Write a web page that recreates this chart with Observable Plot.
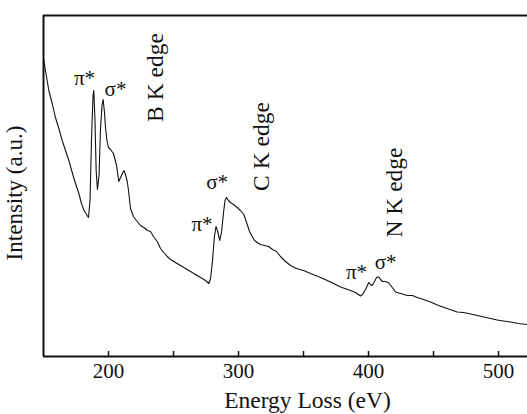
<!DOCTYPE html>
<html>
<head>
<meta charset="utf-8">
<script src="https://cdn.jsdelivr.net/npm/d3@7"></script>
<script src="https://cdn.jsdelivr.net/npm/@observablehq/plot@0.6"></script>
<style>
  html, body { margin: 0; padding: 0; background: #fff; }
  #chart svg { display: block; }
  #chart svg text { font-family: "Liberation Serif", "DejaVu Serif", serif; }
</style>
</head>
<body>
<div id="chart"></div>
<script>
// Energy loss (eV) and intensity (a.u.)
const energy = [150,151.5,154.1,156.7,159.2,161.8,164.4,166.9,169.5,172.1,174.6,177.2,179.2,181.2,183.1,184.6,185.8,186.9,188.1,188.7,189.6,190.5,191.5,192.7,193.8,195,195.9,196.9,197.7,198.8,200,201.5,203.8,206.2,207.9,209.6,211.8,213.1,214.4,215.4,216.9,219.2,221.5,224.6,227.2,230,232.3,234.6,237.5,240,242.5,245.2,247.7,251.5,255.4,259.2,263.1,266.9,270.8,274.6,277.2,278.5,280,281.5,282.7,283.8,285.6,286.9,288.5,289.6,290.8,292.3,293.8,296.2,299,301.5,304.1,306.2,308.5,310.5,312.3,314.4,316.9,320,323.1,326.2,329.2,332.3,336.2,340,344.6,350,355.4,363.1,370.8,378.5,386.2,390,393.8,395.4,397.7,400.2,401.5,402.8,404.6,406.2,407.9,409.2,410.8,413.1,415.6,417.7,420.8,424.6,429.8,433.8,437.5,442.3,447.7,453.8,460.5,468.2,473.1,478.5,483.8,488.7,493.8,499,503.8,509.2,515.4,522.3];
const intensity = [298,286,266,253,239,228,216,206,196,184,173,163,153,146,142,139,156,216,261,266,236,186,167,181,226,251,257,244,229,216,209,207,203,191,175,180,186,182,175,166,148,140,136,131,129,126,125,120,115,108,104,100,97,94,91,88,85,82,79,76,73,78,96,120,130,126,116,124,144,156,159,156,154,152,149,146,142,134,125,120,116,114,112,111,110,107,105,100,95,91,88,86,83,79,74.5,69.5,66,64,60.5,62,67,74,72,71,75,79,79.5,77,75,75,73.5,70,64.5,63,61,61,59,57,54.5,51,48,44.5,44,42.5,41,39.5,38,36.5,35.5,34.5,33,32];

const xTicks = [200, 250, 300, 350, 400, 450, 500];
const xTickLabels = [200, 300, 400, 500];

const peakLabels = ["π*", "σ*", "σ*", "π*", "π*", "σ*"];
const peakX = [181.5, 205.4, 283.5, 271.9, 390.8, 413.1];
const peakY = [278, 267, 174.5, 132.5, 84.5, 94.5];

const edgeLabels = ["B K edge", "C K edge", "N K edge"];
const edgeX = [236.2, 317.7, 420];
const edgeY = [279, 210, 164];

const xTitle = "Energy Loss (eV)";
const yTitle = "Intensity (a.u.)";

const spectrum = energy.map((e, i) => ({e, v: intensity[i]}));
const peaks = peakLabels.map((t, i) => ({t, x: peakX[i], y: peakY[i]}));
const edges = edgeLabels.map((t, i) => ({t, x: edgeX[i], y: edgeY[i]}));

const serif = "Liberation Serif";

const chart = Plot.plot({
  width: 527,
  height: 414,
  marginLeft: 43,
  marginRight: 0,
  marginTop: 15,
  marginBottom: 58,
  style: {fontFamily: "'Liberation Serif', serif", background: "#fff", color: "#111"},
  x: {domain: [150, 522.3], axis: null},
  y: {domain: [0, 341], axis: null},
  marks: [
    Plot.line(spectrum, {x: "e", y: "v", stroke: "#111", strokeWidth: 1.1}),
    Plot.ruleY([0], {stroke: "#111", strokeWidth: 2}),
    Plot.ruleY([341], {stroke: "#111", strokeWidth: 2}),
    Plot.ruleX([150], {stroke: "#111", strokeWidth: 2}),
    Plot.ruleX(xTicks, {x: d => d, y1: 0, y2: 5, stroke: "#111", strokeWidth: 1.5}),
    Plot.text(xTickLabels, {x: d => d, y: 0, text: d => String(d), dy: 15, fontSize: 21, fontFamily: serif, lineAnchor: "middle", fill: "#111"}),
    Plot.text([xTitle], {frameAnchor: "bottom", text: d => d, dx: 22, dy: 44, fontSize: 23.5, fontFamily: serif, textAnchor: "middle", lineAnchor: "middle", fill: "#111"}),
    Plot.text([yTitle], {frameAnchor: "left", text: d => d, dx: -29, dy: 7, rotate: -90, fontSize: 23, fontFamily: serif, textAnchor: "middle", lineAnchor: "middle", fill: "#111"}),
    Plot.text(peaks, {x: "x", y: "y", text: "t", fontSize: 21, fontFamily: serif, lineAnchor: "middle", fill: "#111"}),
    Plot.text(edges, {x: "x", y: "y", text: "t", rotate: -90, fontSize: 23.5, fontFamily: serif, lineAnchor: "middle", fill: "#111"})
  ]
});
document.getElementById("chart").appendChild(chart);
</script>
</body>
</html>
